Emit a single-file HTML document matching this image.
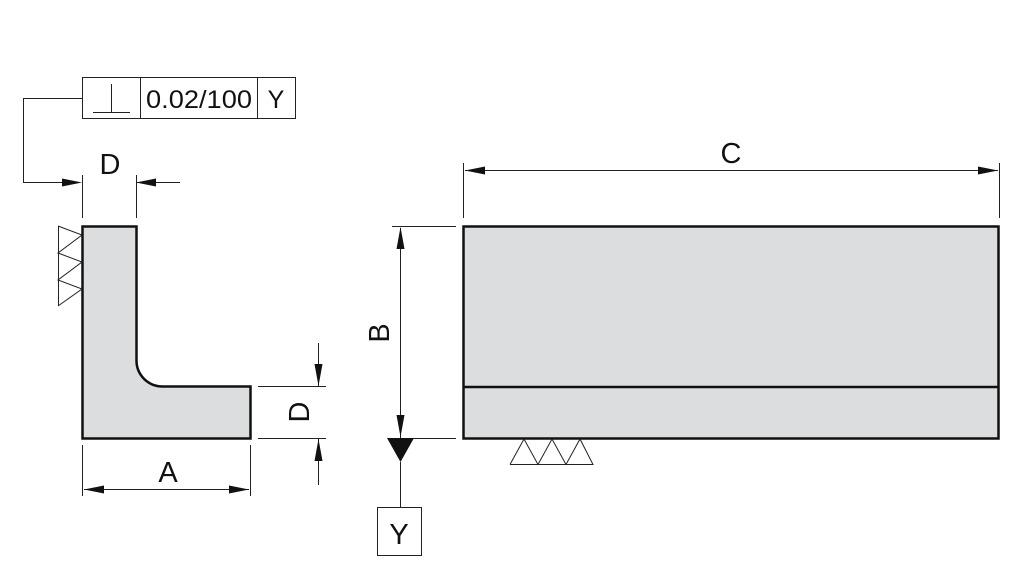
<!DOCTYPE html>
<html><head><style>body{margin:0;background:#fff}svg{display:block}text{font-family:"Liberation Sans",sans-serif;fill:#111}</style></head>
<body>
<svg width="1031" height="580" viewBox="0 0 1031 580" xmlns="http://www.w3.org/2000/svg">
<g stroke="#222" stroke-width="1" fill="none">
<rect x="82.5" y="77.5" width="213" height="41" fill="#fff"/>
<line x1="140.5" y1="77" x2="140.5" y2="118"/>
<line x1="257.5" y1="77" x2="257.5" y2="118"/>
<line x1="93" y1="112.5" x2="130" y2="112.5"/>
<line x1="111.5" y1="84" x2="111.5" y2="112"/>
<polyline points="82,98.5 23.5,98.5 23.5,182.5 70,182.5"/>
<line x1="136" y1="182.5" x2="180" y2="182.5"/>
<line x1="82.5" y1="175" x2="82.5" y2="218"/>
<line x1="136.5" y1="175" x2="136.5" y2="218"/>
<path d="M82.5,226.5 H136.5 V360 A26,26 0 0 0 162.5,386.5 H250.5 V438.5 H82.5 Z" fill="#dcdddf" stroke="#111" stroke-width="2.5"/>
<polyline points="58,226 82,235 58,253 82,262 58,280 82,289 58,306"/>
<line x1="58.5" y1="226" x2="58.5" y2="306"/>
<line x1="82.5" y1="445" x2="82.5" y2="496"/>
<line x1="250.5" y1="445" x2="250.5" y2="496"/>
<line x1="84" y1="489.5" x2="249" y2="489.5"/>
<line x1="258" y1="386.5" x2="326" y2="386.5"/>
<line x1="258" y1="438.5" x2="326" y2="438.5"/>
<line x1="318.5" y1="343" x2="318.5" y2="386"/>
<line x1="318.5" y1="438" x2="318.5" y2="485"/>
<rect x="463.5" y="226.5" width="535" height="212" fill="#dcdddf" stroke="#111" stroke-width="2.5"/>
<line x1="463" y1="387" x2="999" y2="387" stroke="#111" stroke-width="2.5"/>
<line x1="463.5" y1="163" x2="463.5" y2="218"/>
<line x1="999.5" y1="163" x2="999.5" y2="218"/>
<line x1="465" y1="170.5" x2="998" y2="170.5"/>
<line x1="392" y1="226.5" x2="456" y2="226.5"/>
<line x1="413" y1="438.5" x2="456" y2="438.5"/>
<line x1="400.5" y1="228" x2="400.5" y2="438"/>
<line x1="400.5" y1="462" x2="400.5" y2="507"/>
<rect x="377.5" y="507.5" width="44" height="48" fill="#fff"/>
<polyline points="510,464.5 524,439 538,464.5 552,439 566,464.5 580,439 593,464.5 510,464.5"/>
</g>
<g fill="#111">
<polygon points="82,182.5 62,178.5 62,186.5"/>
<polygon points="136,182.5 156,178.5 156,186.5"/>
<polygon points="84,489.5 104,485.5 104,493.5"/>
<polygon points="249,489.5 229,485.5 229,493.5"/>
<polygon points="318.5,386 314.5,364 322.5,364"/>
<polygon points="318.5,439 314.5,461 322.5,461"/>
<polygon points="465,170.5 485,166.5 485,174.5"/>
<polygon points="998,170.5 978,166.5 978,174.5"/>
<polygon points="400.5,227 396.5,249 404.5,249"/>
<polygon points="400.5,437 396.5,415 404.5,415"/>
<polygon points="387,438 414,438 400.5,462"/>
</g>
<text x="199" y="108" font-size="25" text-anchor="middle" textLength="106" lengthAdjust="spacingAndGlyphs">0.02/100</text>
<text x="276" y="108" font-size="25" text-anchor="middle">Y</text>
<text x="110" y="174" font-size="29" text-anchor="middle">D</text>
<text x="168" y="482" font-size="29" text-anchor="middle">A</text>
<text x="731" y="163" font-size="29" text-anchor="middle">C</text>
<text x="399" y="544" font-size="29" text-anchor="middle">Y</text>
<text transform="translate(309,412) rotate(-90)" font-size="29" text-anchor="middle">D</text>
<text transform="translate(389,333) rotate(-90)" font-size="29" text-anchor="middle">B</text>
</svg>
</body></html>
